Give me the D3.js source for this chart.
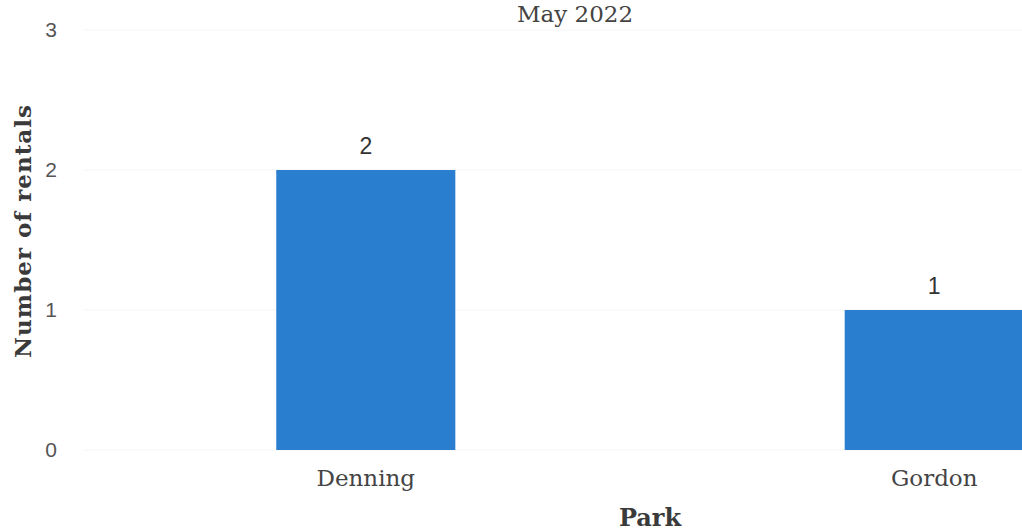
<!DOCTYPE html>
<html>
<head>
<meta charset="utf-8">
<script src="https://cdn.jsdelivr.net/npm/d3@7"></script>
<style>
  html, body { margin: 0; padding: 0; background: #fff; overflow: hidden; }
  svg { display: block; }
</style>
</head>
<body>
<svg id="chart" width="1022" height="531"></svg>
<script>
// Rentals per park, May 2022
const parks = ["Denning", "Gordon"];
const rentals = [2, 1];
const yTicks = [0, 1, 2, 3];
const title = "May 2022";
const xTitle = "Park";
const yTitle = "Number of rentals";

const svg = d3.select("#chart");
const serif = "'DejaVu Serif', 'Liberation Serif', serif";
const sans = "'Liberation Sans', Arial, sans-serif";

const x = d3.scaleBand()
  .domain(parks)
  .range([83, 1217])
  .paddingInner(0.685)
  .paddingOuter(0.34);

const y = d3.scaleLinear()
  .domain([0, 3])
  .range([450, 30]);

// faint horizontal grid
svg.append("g")
  .selectAll("line")
  .data(yTicks)
  .join("line")
  .attr("x1", 83)
  .attr("x2", 1217)
  .attr("y1", d => y(d))
  .attr("y2", d => y(d))
  .attr("stroke", "#f5f5f5")
  .attr("stroke-width", 1);

// y axis tick labels
const yAxis = svg.append("g")
  .attr("transform", "translate(57,0)")
  .call(d3.axisLeft(y).tickValues(yTicks).tickFormat(d3.format("d")).tickSize(0).tickPadding(0));
yAxis.select(".domain").remove();
yAxis.selectAll("text")
  .style("font-family", sans)
  .style("font-size", "21px")
  .attr("fill", "#555");

// bars
svg.append("g")
  .selectAll("rect")
  .data(parks)
  .join("rect")
  .attr("x", d => x(d))
  .attr("width", x.bandwidth())
  .attr("y", (d, i) => y(rentals[i]))
  .attr("height", (d, i) => y(0) - y(rentals[i]))
  .attr("fill", "#2a7ed0");

// value labels
svg.append("g")
  .selectAll("text")
  .data(parks)
  .join("text")
  .attr("x", d => x(d) + x.bandwidth() / 2)
  .attr("y", (d, i) => y(rentals[i]) - 16)
  .attr("text-anchor", "middle")
  .attr("font-family", sans)
  .attr("font-size", 23)
  .attr("fill", "#333")
  .text((d, i) => rentals[i]);

// x axis category labels
const xAxis = svg.append("g")
  .attr("transform", `translate(0,${y(0)})`)
  .call(d3.axisBottom(x).tickSize(0).tickPadding(36));
xAxis.select(".domain").remove();
xAxis.selectAll("text")
  .style("font-family", serif)
  .style("font-size", "23px")
  .attr("fill", "#444")
  .attr("dy", 0);

// titles
svg.append("text")
  .attr("x", 575)
  .attr("y", 22)
  .attr("text-anchor", "middle")
  .attr("font-family", serif)
  .attr("font-size", 23)
  .attr("fill", "#444")
  .text(title);

svg.append("text")
  .attr("x", (x.range()[0] + x.range()[1]) / 2)
  .attr("y", 526)
  .attr("text-anchor", "middle")
  .attr("font-family", serif)
  .attr("font-weight", "bold")
  .attr("font-size", 24)
  .attr("fill", "#3a3a3a")
  .text(xTitle);

svg.append("text")
  .attr("transform", "translate(31,231) rotate(-90)")
  .attr("text-anchor", "middle")
  .attr("font-family", serif)
  .attr("font-weight", "bold")
  .attr("font-size", 23)
  .attr("letter-spacing", 1)
  .attr("fill", "#3a3a3a")
  .text(yTitle);
</script>
</body>
</html>
